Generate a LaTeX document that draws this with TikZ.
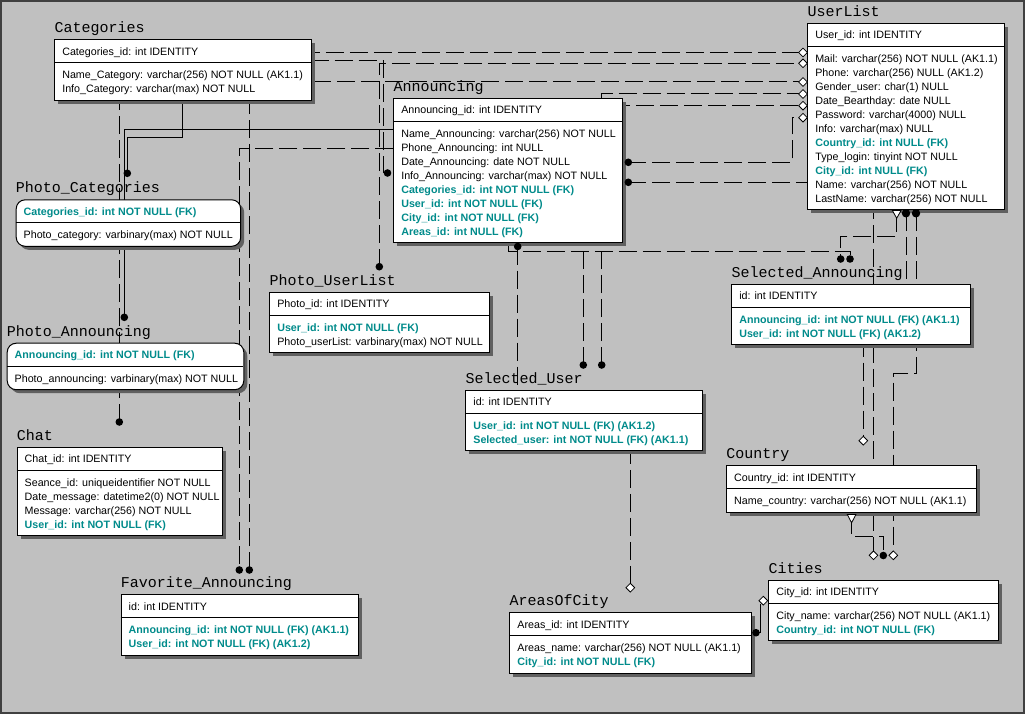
\documentclass[tikz,border=0pt]{standalone}
\usepackage{fontspec}
\setmainfont{Liberation Sans}
\newfontfamily\titlefont{Liberation Mono}
\usetikzlibrary{shapes.geometric,calc}

\definecolor{canvas}{HTML}{C0C0C0}
\definecolor{shade}{HTML}{606060}
\definecolor{fkteal}{HTML}{008B8B}
\definecolor{framec}{HTML}{404040}

\newcommand\fkey[1]{\textcolor{fkteal}{\bfseries #1}}

\tikzset{
  entbox/.style={draw, fill=white, line width=1pt, inner sep=0pt},
  shadowfill/.style={fill=shade},
  ttl/.style={anchor=base west, inner sep=0pt, font=\titlefont\fontsize{15}{15}\selectfont},
  row/.style={anchor=base west, inner sep=0pt, font=\fontsize{10.7}{12}\selectfont},
  rel/.style={line width=1pt, dash pattern=on 18pt off 6pt},
  idrel/.style={line width=1pt},
  dotmark/.style={circle, fill=black, inner sep=0pt, minimum size=7.6pt},
  nullmark/.style={diamond, draw, fill=white, line width=0.8pt, inner sep=0pt, minimum width=9pt, minimum height=9pt},
  halfmark/.style={draw, fill=white, line width=0.8pt},
}

% #1 extra box style, #2 name, #3 x, #4 top, #5 width, #6 body rows,
% #7 title, #8 key row, #9 body rows (comma separated)
\newcommand\erentity[9][]{%
  \pgfmathsetmacro\entH{32.5+14*#6}%
  \fill[shadowfill,#1] (#3+4,#4+4) rectangle ++(#5,\entH);
  \node[entbox,#1,minimum width=#5pt,minimum height=\entH pt,anchor=north west] (#2) at (#3,#4) {};
  \draw[line width=1pt] (#3,#4+23.5) -- ++(#5,0);
  \node[ttl] (#2-title) at (#3,#4-6.5) {#7};
  \node[row] (#2-key) at (#3+7.8,#4+16) {#8};
  \foreach \r [count=\i from 0] in {#9}
    \node[row] (#2-row\i) at (#3+7.8,#4+39.5+14*\i) {\r};
}

\begin{document}
\begin{tikzpicture}[x=1pt,y=-1pt]
\useasboundingbox (0,0) rectangle (1025,714);
\fill[canvas] (0,0) rectangle (1025,714);
\draw[framec, line width=1.5pt] (1.2,1.2) rectangle (1023.8,712.8);

% ---- relationship end points ----
\coordinate (k-chat) at (119.3,422);
\coordinate (k-puser) at (379.3,266.7);
\coordinate (k-anncat) at (387.5,173);
\coordinate (k-favuser) at (249.3,570);
\coordinate (k-favann) at (239.3,570);
\coordinate (k-pann) at (124.3,317.3);
\coordinate (k-pcat) at (127.3,173.3);
\coordinate (k-suser1) at (583.3,365);
\coordinate (k-suser2) at (601.7,365);
\coordinate (k-annuser) at (628.3,162.3);
\coordinate (k-anncity) at (628.3,182.3);
\coordinate (k-ulcountry) at (906,213.3);
\coordinate (k-ulcity) at (916,213.3);
\coordinate (k-sauser) at (840.7,259);
\coordinate (k-saann) at (850,259);
\coordinate (k-annarea) at (517.7,246.5);
\coordinate (k-citcountry) at (883.3,555.5);
\coordinate (k-areacity) at (756,632.7);

\coordinate (d-mail) at (803,52.5);
\coordinate (d-phone) at (803,63.3);
\coordinate (d-gender) at (803,82);
\coordinate (d-birth) at (803,94);
\coordinate (d-pass) at (803,105.7);
\coordinate (d-info) at (803,117.7);
\coordinate (d-citA) at (873.5,555.3);
\coordinate (d-country) at (863.3,440.7);
\coordinate (d-citB) at (893.3,555.3);
\coordinate (d-areas) at (630.3,587.7);
\coordinate (d-cities) at (763.3,600.7);

\coordinate (s-cat) at (310.7,60.7);
\coordinate (s-annfav) at (393.3,148.3);
\coordinate (s-annphoto) at (393.3,130);
\coordinate (s-catphoto) at (182.3,100);
\coordinate (s-ulsel) at (896.7,214);
\coordinate (s-annsel) at (508.3,242.3);
\coordinate (s-country) at (851.5,516);

% ---- relationships ----
\draw[rel] (k-chat) |- ($(d-mail)+(-4,0)$);
\draw[rel] (k-puser) |- ($(d-phone)+(-4,0)$);
\draw[rel] (s-cat) -| (383.3,173) -- (k-anncat);
\draw[rel] (k-favuser) |- ($(d-gender)+(-4,0)$);
\draw[rel] (s-annfav) -| (k-favann);
\draw[idrel] (s-annphoto) -| (k-pann);
\draw[idrel] (s-catphoto) |- (127.3,137.7) -- (k-pcat);
\draw[rel] (k-suser2) |- ($(d-birth)+(-4,0)$);
\draw[rel] (k-suser1) |- ($(d-pass)+(-4,0)$);
\draw[rel] (k-annuser) -| (792.5,117.7) -- ($(d-info)+(-4,0)$);
\draw[rel] (k-anncity) -| ($(d-citA)+(0,-4)$);
\draw[rel] (k-ulcountry) |- (863.3,300) -- ($(d-country)+(0,-4)$);
\draw[rel] (k-ulcity) |- (893.3,373.3) -- ($(d-citB)+(0,-4)$);
\draw[rel] (s-ulsel) |- (840.7,236.7) -- (k-sauser);
\draw[rel] (s-annsel) |- (850,251.7) -- (k-saann);
\draw[rel] (k-annarea) |- (630.3,420) -- ($(d-areas)+(0,-4)$);
\draw[rel] (s-country) |- (883.3,536.5) -- (k-citcountry);
\draw[idrel] (760.7,604) |- (k-areacity);

% ---- entities ----
\erentity{categories}{54.3}{39.3}{256.4}{2}{Categories}{Categories\_id: int IDENTITY}
  {Name\_Category: varchar(256) NOT NULL (AK1.1), Info\_Category: varchar(max) NOT NULL}
\erentity[rounded corners=9pt]{photocat}{15.7}{199.3}{224.5}{1}{Photo\_Categories}{\fkey{Categories\_id: int NOT NULL (FK)}}
  {Photo\_category: varbinary(max) NOT NULL}
\erentity[rounded corners=9pt]{photoann}{6.7}{342.7}{236.6}{1}{Photo\_Announcing}{\fkey{Announcing\_id: int NOT NULL (FK)}}
  {Photo\_announcing: varbinary(max) NOT NULL}
\erentity{chat}{16.7}{446.7}{205.6}{4}{Chat}{Chat\_id: int IDENTITY}
  {Seance\_id: uniqueidentifier NOT NULL, Date\_message: datetime2(0) NOT NULL,
   Message: varchar(256) NOT NULL, \fkey{User\_id: int NOT NULL (FK)}}
\erentity{favann}{120.7}{594.3}{237.6}{2}{Favorite\_Announcing}{id: int IDENTITY}
  {\fkey{Announcing\_id: int NOT NULL (FK) (AK1.1)}, \fkey{User\_id: int NOT NULL (FK) (AK1.2)}}
\erentity{announcing}{393.3}{97.7}{229}{8}{Announcing}{Announcing\_id: int IDENTITY}
  {Name\_Announcing: varchar(256) NOT NULL, Phone\_Announcing: int NULL,
   Date\_Announcing: date NOT NULL, Info\_Announcing: varchar(max) NOT NULL,
   \fkey{Categories\_id: int NOT NULL (FK)}, \fkey{User\_id: int NOT NULL (FK)},
   \fkey{City\_id: int NOT NULL (FK)}, \fkey{Areas\_id: int NULL (FK)}}
\erentity{userlist}{807.3}{22.7}{197}{11}{UserList}{User\_id: int IDENTITY}
  {Mail: varchar(256) NOT NULL (AK1.1), Phone: varchar(256) NULL (AK1.2),
   Gender\_user: char(1) NULL, Date\_Bearthday: date NULL,
   Password: varchar(4000) NULL, Info: varchar(max) NULL,
   \fkey{Country\_id: int NULL (FK)}, Type\_login: tinyint NOT NULL,
   \fkey{City\_id: int NULL (FK)}, Name: varchar(256) NOT NULL,
   LastName: varchar(256) NOT NULL}
\erentity{photouser}{269.3}{291.7}{220}{2}{Photo\_UserList}{Photo\_id: int IDENTITY}
  {\fkey{User\_id: int NOT NULL (FK)}, Photo\_userList: varbinary(max) NOT NULL}
\erentity{selann}{731.3}{283.7}{238.3}{2}{Selected\_Announcing}{id: int IDENTITY}
  {\fkey{Announcing\_id: int NOT NULL (FK) (AK1.1)}, \fkey{User\_id: int NOT NULL (FK) (AK1.2)}}
\erentity{seluser}{465.4}{389.7}{236.2}{2}{Selected\_User}{id: int IDENTITY}
  {\fkey{User\_id: int NOT NULL (FK) (AK1.2)}, \fkey{Selected\_user: int NOT NULL (FK) (AK1.1)}}
\erentity{country}{726.2}{465.3}{249.6}{1}{Country}{Country\_id: int IDENTITY}
  {Name\_country: varchar(256) NOT NULL (AK1.1)}
\erentity{cities}{768.4}{579.7}{229.4}{2}{Cities}{City\_id: int IDENTITY}
  {City\_name: varchar(256) NOT NULL (AK1.1), \fkey{Country\_id: int NOT NULL (FK)}}
\erentity{areas}{509.4}{612.3}{241.4}{2}{AreasOfCity}{Areas\_id: int IDENTITY}
  {Areas\_name: varchar(256) NOT NULL (AK1.1), \fkey{City\_id: int NOT NULL (FK)}}

% ---- cardinality marks ----
\foreach \c in {k-chat,k-puser,k-anncat,k-favuser,k-favann,k-pann,k-pcat,k-suser1,k-suser2,
  k-annuser,k-anncity,k-sauser,k-saann,k-annarea,k-citcountry,k-areacity}
  \node[dotmark] (m-\c) at (\c) {};
\node[dotmark, minimum size=8.4pt] (m-ulcountry) at (k-ulcountry) {};
\node[dotmark, minimum size=8.4pt] (m-ulcity) at (k-ulcity) {};
\foreach \c in {d-mail,d-phone,d-gender,d-birth,d-pass,d-info,d-citA,d-country,d-citB,d-areas,d-cities}
  \node[nullmark] (m-\c) at (\c) {};
\filldraw[halfmark] (892.4,210.5) -- (901,210.5) -- (896.7,218.3) -- cycle;
\filldraw[halfmark] (847.3,514.5) -- (855.9,514.5) -- (851.6,522.8) -- cycle;
\end{tikzpicture}
\end{document}
